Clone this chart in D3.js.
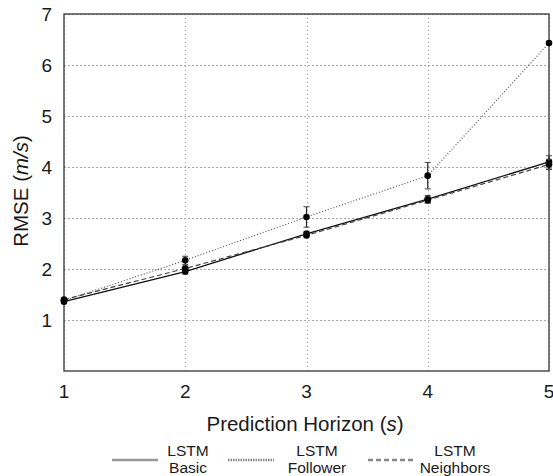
<!DOCTYPE html>
<html lang="en">
<head>
<meta charset="UTF-8">
<title>RMSE vs prediction horizon</title>
<style>
    body { margin: 0; background: #fff; }
    text { font-family: "Liberation Sans", Arial, sans-serif; fill: #1a1a1a; }
    .grid line { stroke: #aaa; stroke-dasharray: 1.5 2.5; shape-rendering: crispEdges; }
    .grid path { stroke-width: 0; }
    .frame { fill: none; stroke: #333; stroke-width: 1.3px; }
    .series { fill: none; }
</style>
</head>
<body>
<script src="https://d3js.org/d3.v7.min.js"></script>
<script>
    // data
    var horizons = [1, 2, 3, 4, 5];
    var basic     = [1.36, 1.95, 2.69, 3.37, 4.10];
    var follower  = [1.38, 2.17, 3.02, 3.83, 6.43];
    var neighbors = [1.40, 2.01, 2.66, 3.35, 4.05];
    var basicErr     = [0.02, 0.05, 0.05, 0.07, 0.12];
    var followerErr  = [0.02, 0.08, 0.20, 0.26, 0.02];
    var neighborsErr = [0.02, 0.05, 0.05, 0.06, 0.10];
    var yTicks = [1, 2, 3, 4, 5, 6, 7];
    var seriesNames = ["LSTM Basic", "LSTM Follower", "LSTM Neighbors"];

    var W = 553, H = 476;
    var x = d3.scaleLinear().domain([1, 5]).range([64, 549]);
    var y = d3.scaleLinear().domain([0, 7]).range([371, 14]);

    var svg = d3.select("body").append("svg")
        .attr("width", W)
        .attr("height", H);

    // gridlines
    svg.append("g")
        .attr("class", "grid")
        .attr("transform", "translate(0,371)")
        .call(d3.axisBottom(x).tickValues(horizons).tickSize(-357).tickFormat(""));
    svg.append("g")
        .attr("class", "grid")
        .attr("transform", "translate(64,0)")
        .call(d3.axisLeft(y).tickValues(yTicks).tickSize(-485).tickFormat(""));

    // frame
    svg.append("rect")
        .attr("class", "frame")
        .attr("x", x(1)).attr("y", y(7))
        .attr("width", x(5) - x(1)).attr("height", y(0) - y(7));

    // tick labels
    svg.append("g").selectAll("text")
        .data(horizons)
        .join("text")
        .attr("x", function (d) { return x(d); })
        .attr("y", 398)
        .attr("text-anchor", "middle")
        .style("font-size", "19px")
        .text(function (d) { return d; });
    svg.append("g").selectAll("text")
        .data(yTicks)
        .join("text")
        .attr("x", 52)
        .attr("y", function (d) { return y(d) + 7; })
        .attr("text-anchor", "end")
        .style("font-size", "19px")
        .text(function (d) { return d; });

    // axis titles
    var xt = svg.append("text")
        .attr("x", 305).attr("y", 431)
        .attr("text-anchor", "middle")
        .style("font-size", "20.5px");
    xt.append("tspan").text("Prediction Horizon (");
    xt.append("tspan").style("font-style", "italic").text("s");
    xt.append("tspan").text(")");

    var yt = svg.append("text")
        .attr("transform", "translate(28,191) rotate(-90)")
        .attr("text-anchor", "middle")
        .style("font-size", "20.5px");
    yt.append("tspan").text("RMSE (");
    yt.append("tspan").style("font-style", "italic").text("m/s");
    yt.append("tspan").text(")");

    var series = [
        { name: seriesNames[0], vals: basic, err: basicErr, dash: null, color: "#111", legColor: "#999", legDash: null, w: 1.3 },
        { name: seriesNames[1], vals: follower, err: followerErr, dash: "1 2", color: "#555", legColor: "#888", legDash: "1.5 1", w: 1.2 },
        { name: seriesNames[2], vals: neighbors, err: neighborsErr, dash: "5 3", color: "#444", legColor: "#888", legDash: "5 3", w: 1.2 }
    ];

    var line = d3.line()
        .x(function (d) { return x(d[0]); })
        .y(function (d) { return y(d[1]); });

    series.forEach(function (s) {
        var pts = horizons.map(function (h, i) { return [h, s.vals[i], s.err[i]]; });
        svg.append("path")
            .datum(pts)
            .attr("class", "series")
            .attr("stroke", s.color)
            .attr("stroke-width", s.w)
            .attr("stroke-dasharray", s.dash)
            .attr("d", line);

        var eb = svg.append("g").selectAll("g")
            .data(pts)
            .join("g");
        eb.append("line")
            .attr("x1", function (d) { return x(d[0]); })
            .attr("x2", function (d) { return x(d[0]); })
            .attr("y1", function (d) { return y(d[1] - d[2]); })
            .attr("y2", function (d) { return y(d[1] + d[2]); })
            .attr("stroke", "#222").attr("stroke-width", 1.2);
        [-1, 1].forEach(function (sg) {
            eb.append("line")
                .attr("x1", function (d) { return x(d[0]) - 3; })
                .attr("x2", function (d) { return x(d[0]) + 3; })
                .attr("y1", function (d) { return y(d[1] + sg * d[2]); })
                .attr("y2", function (d) { return y(d[1] + sg * d[2]); })
                .attr("stroke", "#444").attr("stroke-width", 1);
        });
        eb.append("circle")
            .attr("cx", function (d) { return x(d[0]); })
            .attr("cy", function (d) { return y(d[1]); })
            .attr("r", 3.3)
            .attr("fill", "#000");
    });

    // legend
    var legX = [112, 228, 368];
    var labX = [188, 317, 455];
    series.forEach(function (s, i) {
        svg.append("line")
            .attr("x1", legX[i]).attr("x2", legX[i] + 46)
            .attr("y1", 460).attr("y2", 460)
            .attr("stroke", s.legColor)
            .attr("stroke-width", 2.5)
            .attr("stroke-dasharray", s.legDash);
        var parts = s.name.split(" ");
        svg.append("text")
            .attr("x", labX[i]).attr("y", 456)
            .attr("text-anchor", "middle")
            .style("font-size", "15.5px")
            .text(parts[0]);
        svg.append("text")
            .attr("x", labX[i]).attr("y", 473)
            .attr("text-anchor", "middle")
            .style("font-size", "15.5px")
            .text(parts[1]);
    });
</script>
</body>
</html>
